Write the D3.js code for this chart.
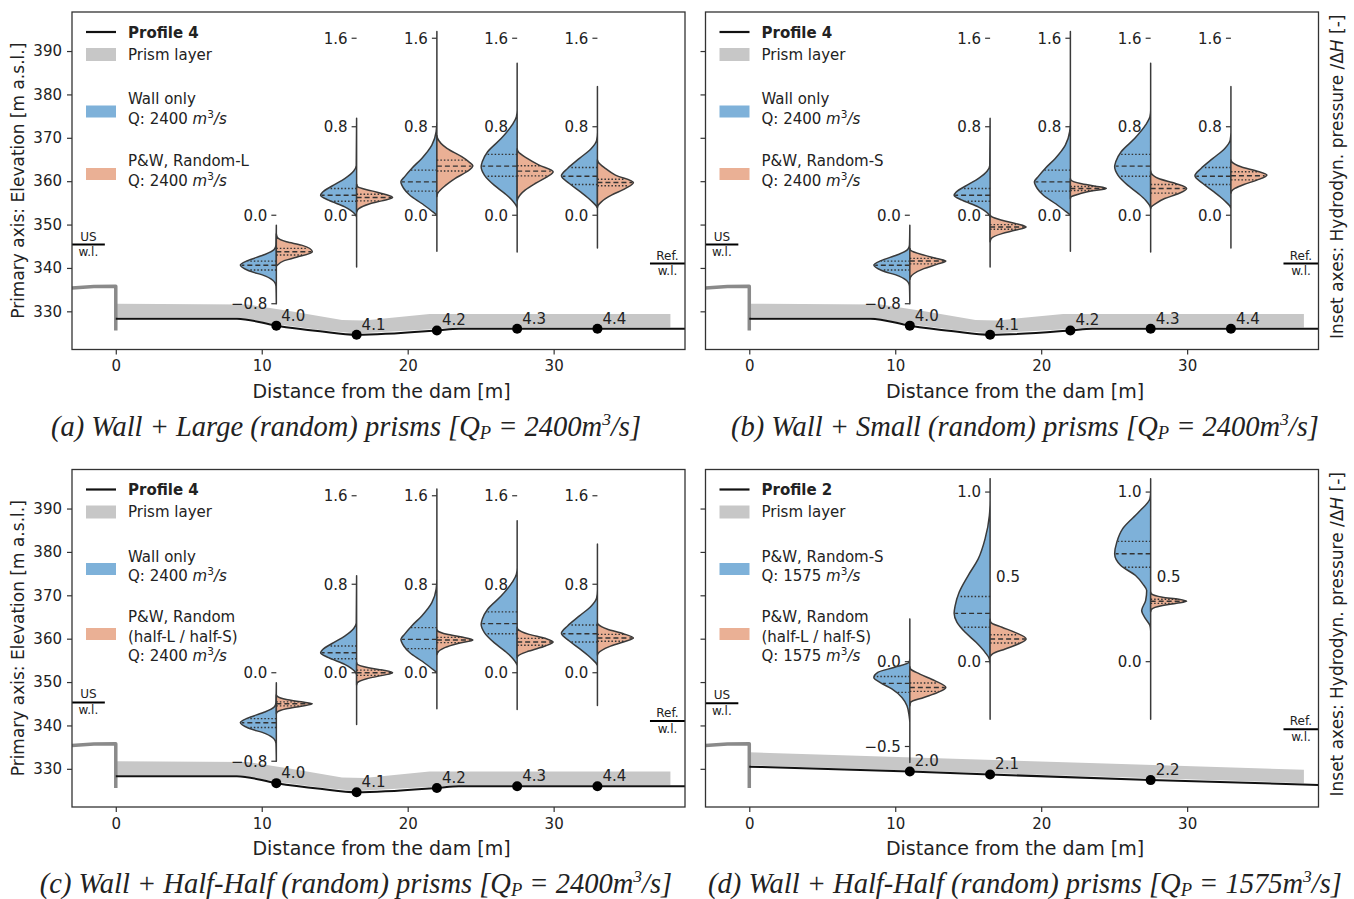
<!DOCTYPE html>
<html>
<head>
<meta charset="utf-8">
<title>Hydrodynamic pressure along the stilling basin profiles</title>
<script src="https://cdn.jsdelivr.net/npm/d3@7/dist/d3.min.js"></script>
<style>
  html, body { margin: 0; padding: 0; background: #fff; }
  svg { display: block; }
  text { font-family: "DejaVu Sans", sans-serif; fill: #222; }
  .caption { font-family: "Liberation Serif", "Times New Roman", serif; font-style: italic; }
</style>
</head>
<body>
<svg id="fig" width="1354" height="899"></svg>
<script>
// ---------- main axes ----------
const xTicks = [0, 10, 20, 30];
const yTicks = [330, 340, 350, 360, 370, 380, 390];

// bed profiles (distance from the dam [m], elevation [m a.s.l.])
const profile4Dist = [0, 8.3, 11, 14, 16.5, 22, 23.5, 27.5, 33, 39];
const profile4Elev = [328.3, 328.3, 326.7, 325.4, 324.6, 325.6, 326.0, 326.0, 326.0, 326.0];
const profile2Dist = [0, 11, 16.5, 27.5, 39];
const profile2Elev = [330.5, 329.4, 328.7, 327.4, 326.3];

// prism layer outline (top and base) above each profile
const prism4TopDist = [0, 9, 12, 15.5, 17, 21.5, 38];
const prism4TopElev = [331.75, 331.6, 330.0, 328.0, 327.9, 329.4, 329.4];
const prism4BaseDist = [0, 8.3, 11, 14, 16.5, 22, 23.5, 38];
const prism4BaseElev = [328.6, 328.6, 327.0, 325.7, 324.9, 325.9, 326.3, 326.3];
const prism2TopDist = [0, 38];
const prism2TopElev = [333.8, 329.8];
const prism2BaseDist = [0, 38];
const prism2BaseElev = [330.8, 326.7];

// dam crest and downstream face
const damDist = [-3, -1.5, 0, 0];
const damElev = [335.4, 335.7, 335.8, 325.6];

// measuring stations along the profiles
const stations4 = [11, 16.5, 22, 27.5, 33];
const stationNames4 = ["4.0", "4.1", "4.2", "4.3", "4.4"];
const stations2 = [11, 16.5, 27.5];
const stationNames2 = ["2.0", "2.1", "2.2"];

// water levels [m a.s.l.] and peak discharge, panels a–d
const usLevel = [345.4, 345.4, 345.3, 345.1];
const refLevel = [341.0, 341.0, 341.0, 339.1];
const discharge = [2400, 2400, 2400, 1575];

// ---------- inset violins: density outline [value, relative density] and quartiles ----------
// Wall only, Q = 2400 m3/s (stations 4.0–4.4)
const wallOnlyShapes = [
  [[-0.80,0],[-0.64,0.01],[-0.60,0.06],[-0.55,0.3],[-0.50,0.78],[-0.45,1],[-0.41,0.8],[-0.36,0.36],[-0.31,0.06],[-0.27,0.01],[-0.09,0]],
  [[-0.468,0],[-0.02,0],[0.015,0.06],[0.076,0.33],[0.136,0.78],[0.181,1],[0.211,0.94],[0.272,0.64],[0.332,0.33],[0.40,0.08],[0.45,0.01],[0.876,0]],
  [[-0.326,0],[-0.01,0],[0.045,0.17],[0.106,0.42],[0.181,0.75],[0.242,0.92],[0.302,1],[0.347,0.9],[0.423,0.7],[0.514,0.42],[0.634,0.14],[0.755,0.02],[0.85,0],[1.66,0]],
  [[-0.332,0],[0.06,0],[0.136,0.14],[0.196,0.34],[0.272,0.64],[0.363,0.91],[0.438,1],[0.483,0.97],[0.574,0.82],[0.695,0.44],[0.816,0.14],[0.891,0.02],[0.95,0],[1.375,0]],
  [[-0.296,0],[0.06,0],[0.136,0.19],[0.211,0.47],[0.287,0.78],[0.356,1],[0.423,0.83],[0.514,0.5],[0.604,0.17],[0.68,0.02],[0.75,0],[1.163,0]]
];
const wallOnlyQuartiles = [[-0.495,-0.452,-0.415],[0.127,0.181,0.242],[0.218,0.302,0.408],[0.353,0.444,0.55],[0.278,0.353,0.432]];

// P&W, Random-L, Q = 2400 m3/s
const randomLShapes = [
  [[-0.46,0],[-0.41,0.22],[-0.38,0.56],[-0.33,1],[-0.27,0.7],[-0.24,0.28],[-0.2,0.03],[-0.17,0]],
  [[0.03,0],[0.06,0.06],[0.10,0.33],[0.13,0.7],[0.16,1],[0.19,0.78],[0.22,0.42],[0.257,0.03],[0.28,0]],
  [[0.17,0],[0.196,0.02],[0.272,0.25],[0.332,0.5],[0.393,0.83],[0.447,1],[0.483,0.89],[0.529,0.69],[0.604,0.28],[0.695,0.02],[0.72,0]],
  [[0.13,0],[0.151,0.02],[0.227,0.22],[0.287,0.5],[0.347,0.83],[0.393,1],[0.453,0.61],[0.514,0.28],[0.574,0.03],[0.60,0]],
  [[0.07,0],[0.09,0.02],[0.121,0.11],[0.181,0.39],[0.242,0.78],[0.296,1],[0.363,0.5],[0.423,0.22],[0.483,0.02],[0.50,0]]
];
const randomLQuartiles = [[-0.36,-0.33,-0.30],[0.13,0.16,0.19],[0.40,0.444,0.498],[0.356,0.399,0.447],[0.266,0.296,0.326]];

// P&W, Random-S, Q = 2400 m3/s
const randomSShapes = [
  [[-0.58,0],[-0.559,0.02],[-0.529,0.11],[-0.483,0.39],[-0.444,0.75],[-0.414,1],[-0.393,0.78],[-0.363,0.42],[-0.317,0.02],[-0.30,0]],
  [[-0.24,0],[-0.211,0.03],[-0.166,0.33],[-0.136,0.69],[-0.106,1],[-0.076,0.72],[-0.045,0.33],[-0.01,0.03],[0.0,0]],
  [[0.15,0],[0.166,0.02],[0.196,0.28],[0.221,0.61],[0.242,1],[0.263,0.69],[0.287,0.28],[0.317,0.02],[0.33,0]],
  [[0.06,0],[0.076,0.02],[0.106,0.14],[0.151,0.39],[0.196,0.78],[0.242,1],[0.287,0.69],[0.332,0.22],[0.378,0.02],[0.40,0]],
  [[0.20,0],[0.218,0.02],[0.242,0.11],[0.278,0.36],[0.317,0.72],[0.363,1],[0.402,0.69],[0.438,0.28],[0.483,0.02],[0.50,0]]
];
const randomSQuartiles = [[-0.44,-0.414,-0.39],[-0.127,-0.106,-0.085],[0.224,0.242,0.26],[0.20,0.242,0.278],[0.32,0.357,0.393]];

// P&W, Random (half-L / half-S), Q = 2400 m3/s
const halfHalfShapes = [
  [[-0.37,0],[-0.356,0.02],[-0.326,0.28],[-0.302,0.69],[-0.281,1],[-0.263,0.69],[-0.242,0.28],[-0.211,0.02],[-0.20,0]],
  [[-0.11,0],[-0.091,0.02],[-0.054,0.28],[-0.024,0.72],[0,1],[0.024,0.72],[0.045,0.33],[0.076,0.02],[0.09,0]],
  [[0.165,0],[0.181,0.02],[0.227,0.22],[0.266,0.61],[0.296,1],[0.323,0.69],[0.347,0.28],[0.378,0.02],[0.39,0]],
  [[0.135,0],[0.151,0.02],[0.196,0.33],[0.242,0.78],[0.278,1],[0.311,0.78],[0.347,0.33],[0.393,0.02],[0.41,0]],
  [[0.16,0],[0.175,0.02],[0.236,0.33],[0.278,0.72],[0.314,1],[0.353,0.72],[0.393,0.28],[0.438,0.02],[0.45,0]]
];
const halfHalfQuartiles = [[-0.30,-0.281,-0.263],[-0.024,0,0.024],[0.272,0.296,0.32],[0.248,0.278,0.311],[0.284,0.314,0.347]];

// P&W, Random-S, Q = 1575 m3/s (stations 2.0, 2.1, 2.2)
const randomS1575Shapes = [
  [[-0.594,0],[-0.36,0],[-0.319,0.02],[-0.26,0.08],[-0.211,0.22],[-0.161,0.5],[-0.122,0.83],[-0.093,1],[-0.063,0.89],[-0.033,0.42],[-0.004,0.02],[0.02,0],[0.252,0]],
  [[-0.339,0],[-0.02,0],[0.016,0.02],[0.055,0.14],[0.114,0.39],[0.173,0.69],[0.232,0.92],[0.285,1],[0.331,0.97],[0.409,0.86],[0.508,0.61],[0.606,0.33],[0.724,0.14],[0.862,0.02],[0.95,0],[1.079,0]],
  [[-0.339,0],[0.18,0],[0.213,0.02],[0.252,0.14],[0.301,0.25],[0.360,0.14],[0.419,0.11],[0.459,0.22],[0.508,0.42],[0.567,0.83],[0.636,1],[0.705,0.94],[0.783,0.78],[0.882,0.33],[0.961,0.02],[1.0,0],[1.079,0]]
];
const randomS1575Quartiles = [[-0.181,-0.128,-0.087],[0.203,0.285,0.384],[0.557,0.636,0.709]];

// P&W, Random (half-L / half-S), Q = 1575 m3/s
const halfHalf1575Shapes = [
  [[-0.26,0],[-0.24,0.02],[-0.211,0.39],[-0.181,0.78],[-0.152,1],[-0.112,0.69],[-0.073,0.28],[-0.043,0.02],[-0.03,0]],
  [[0.03,0],[0.045,0.06],[0.075,0.42],[0.104,0.78],[0.134,1],[0.173,0.69],[0.203,0.33],[0.232,0.02],[0.25,0]],
  [[0.295,0],[0.307,0.02],[0.331,0.33],[0.344,0.72],[0.356,1],[0.368,0.78],[0.38,0.33],[0.40,0.02],[0.41,0]]
];
const halfHalf1575Quartiles = [[-0.175,-0.152,-0.126],[0.11,0.134,0.159],[0.344,0.356,0.368]];

// inset tick values per station
const insetTicks4 = [[-0.8, 0], [0, 0.8, 1.6], [0, 0.8, 1.6], [0, 0.8, 1.6], [0, 0.8, 1.6]];
const insetTicks2 = [[-0.5, 0], [0, 0.5, 1.0], [0, 0.5, 1.0]];

// ---------- drawing ----------
const BLUE = "#7eb1d9", ORANGE = "#eab095", PRISM = "#c7c7c7", DAM = "#8a8a8a", INK = "#333";
const W = 613, H = 337.5;
const svg = d3.select("#fig");

const panels = [
  { left: 72,    top: 12,    profile: "Profile 4", dist: profile4Dist, elev: profile4Elev,
    prism: [prism4TopDist, prism4TopElev, prism4BaseDist, prism4BaseElev],
    stations: stations4, names: stationNames4, ticks: insetTicks4, rightTicks: [],
    blue: [wallOnlyShapes, wallOnlyQuartiles], orange: [randomLShapes, randomLQuartiles],
    blueName: ["Wall only"], orangeName: ["P&W, Random-L"],
    insetZero: 352.15, insetUnit: 25.5, yLabels: true,
    caption: "(a) Wall + Large (random) prisms", captionX: 346 },
  { left: 705.5, top: 12,    profile: "Profile 4", dist: profile4Dist, elev: profile4Elev,
    prism: [prism4TopDist, prism4TopElev, prism4BaseDist, prism4BaseElev],
    stations: stations4, names: stationNames4, ticks: insetTicks4, rightTicks: [],
    blue: [wallOnlyShapes, wallOnlyQuartiles], orange: [randomSShapes, randomSQuartiles],
    blueName: ["Wall only"], orangeName: ["P&W, Random-S"],
    insetZero: 352.15, insetUnit: 25.5, yLabels: false,
    caption: "(b) Wall + Small (random) prisms", captionX: 1025 },
  { left: 72,    top: 469.5, profile: "Profile 4", dist: profile4Dist, elev: profile4Elev,
    prism: [prism4TopDist, prism4TopElev, prism4BaseDist, prism4BaseElev],
    stations: stations4, names: stationNames4, ticks: insetTicks4, rightTicks: [],
    blue: [wallOnlyShapes, wallOnlyQuartiles], orange: [halfHalfShapes, halfHalfQuartiles],
    blueName: ["Wall only"], orangeName: ["P&W, Random", "(half-L / half-S)"],
    insetZero: 352.15, insetUnit: 25.5, yLabels: true,
    caption: "(c) Wall + Half-Half (random) prisms", captionX: 356 },
  { left: 705.5, top: 469.5, profile: "Profile 2", dist: profile2Dist, elev: profile2Elev,
    prism: [prism2TopDist, prism2TopElev, prism2BaseDist, prism2BaseElev],
    stations: stations2, names: stationNames2, ticks: insetTicks2, rightTicks: [0.5],
    blue: [randomS1575Shapes, randomS1575Quartiles], orange: [halfHalf1575Shapes, halfHalf1575Quartiles],
    blueName: ["P&W, Random-S"], orangeName: ["P&W, Random", "(half-L / half-S)"],
    insetZero: 354.7, insetUnit: 39.1, yLabels: false,
    caption: "(d) Wall + Half-Half (random) prisms", captionX: 1025 }
];

const wScale = d3.scaleLinear().domain([0, 1]).range([0, 36]);
const tickFmt = d3.format(".1f");

function addDischarge(t, q) {
  t.append("tspan").text(`Q: ${q} `);
  t.append("tspan").attr("font-style", "italic").text("m");
  t.append("tspan").attr("font-size", 10.5).attr("dy", -6).text("3");
  t.append("tspan").attr("dy", 6).attr("font-style", "italic").text("/s");
}

function drawHalf(g, cx, side, ys, shape, quart, color) {
  // outline runs from the highest value down to the lowest, then back up the split line
  const pts = shape.slice().reverse().map(([v, d]) => [cx + side * wScale(d), ys(v)]);
  const outline = d3.line().curve(d3.curveMonotoneY)(pts) + `L${cx},${pts[0][1]}Z`;
  g.append("path").attr("d", outline).attr("fill", color)
    .attr("stroke", "#3a3a3a").attr("stroke-width", 1.5).attr("stroke-linejoin", "round");
  const widthAt = d3.scaleLinear().domain(shape.map(p => p[0])).range(shape.map(p => p[1])).clamp(true);
  quart.forEach((q, i) => {
    const yq = ys(q);
    g.append("line").attr("x1", cx).attr("x2", cx + side * wScale(widthAt(q)) * 0.97)
      .attr("y1", yq).attr("y2", yq).attr("stroke", INK).attr("stroke-width", 1.4)
      .attr("stroke-dasharray", i === 1 ? "5,3" : "1.5,2");
  });
}

panels.forEach((p, k) => {
  const g = svg.append("g");
  const x = d3.scaleLinear().domain([-3, 39]).range([p.left, p.left + W]);
  const y = d3.scaleLinear().domain([321.2, 399]).range([p.top + H, p.top]);
  const line = d3.line().x(d => x(d[0])).y(d => y(d[1]));

  // axes
  const ax = g.append("g").attr("transform", `translate(0,${p.top + H})`)
    .call(d3.axisBottom(x).tickValues(xTicks).tickSize(5).tickPadding(6));
  const ay = g.append("g").attr("transform", `translate(${p.left},0)`)
    .call(d3.axisLeft(y).tickValues(yTicks).tickSize(5).tickPadding(5)
      .tickFormat(p.yLabels ? d3.format("d") : () => ""));
  [ax, ay].forEach(a => {
    a.select(".domain").remove();
    a.attr("font-family", null).attr("font-size", null);
    a.selectAll("line").attr("stroke", INK).attr("stroke-width", 1.2);
    a.selectAll("text").attr("font-size", 15).attr("fill", "#222");
  });

  // prism layer
  const [tD, tE, bD, bE] = p.prism;
  const band = tD.map((d, i) => [d, tE[i]]).concat(bD.map((d, i) => [d, bE[i]]).reverse());
  g.append("path").attr("d", line(band) + "Z").attr("fill", PRISM);

  // dam
  g.append("path").attr("d", line(damDist.map((d, i) => [d, damElev[i]])))
    .attr("fill", "none").attr("stroke", DAM).attr("stroke-width", 3.5).attr("stroke-linejoin", "round");

  // bed profile
  g.append("path").attr("d", d3.line().x(d => x(d[0])).y(d => y(d[1])).curve(d3.curveMonotoneX)(p.dist.map((d, i) => [d, p.elev[i]])))
    .attr("fill", "none").attr("stroke", "#111").attr("stroke-width", 2);

  // stations on the profile
  const elevAt = d3.scaleLinear().domain(p.dist).range(p.elev);
  p.stations.forEach((s, i) => {
    const sx = x(s), sy = y(elevAt(s));
    g.append("circle").attr("cx", sx).attr("cy", sy).attr("r", 5).attr("fill", "#000");
    g.append("text").attr("x", sx + 5).attr("y", sy - 5).attr("font-size", 15).text(p.names[i]);
  });

  // upstream / reference water levels
  const wl = (x0, x1, lvl, top) => {
    const yy = y(lvl), cx = (x(x0) + x(x1)) / 2;
    g.append("line").attr("x1", x(x0)).attr("x2", x(x1)).attr("y1", yy).attr("y2", yy)
      .attr("stroke", "#000").attr("stroke-width", 2);
    g.append("text").attr("x", cx).attr("y", yy - 4).attr("text-anchor", "middle").attr("font-size", 12).text(top);
    g.append("text").attr("x", cx).attr("y", yy + 11.5).attr("text-anchor", "middle").attr("font-size", 12).text("w.l.");
  };
  wl(-3, -0.75, usLevel[k], "US");
  wl(36.6, 39, refLevel[k], "Ref.");

  // frame
  g.append("rect").attr("x", p.left).attr("y", p.top).attr("width", W).attr("height", H)
    .attr("fill", "none").attr("stroke", INK).attr("stroke-width", 1.3);

  // legend
  const lx = p.left + 14, tx = p.left + 56, T = p.top;
  g.append("line").attr("x1", lx).attr("x2", lx + 30).attr("y1", T + 20).attr("y2", T + 20)
    .attr("stroke", "#111").attr("stroke-width", 2.2);
  g.append("text").attr("x", tx).attr("y", T + 25.5).attr("font-size", 15).attr("font-weight", "bold").text(p.profile);
  g.append("rect").attr("x", lx).attr("y", T + 36).attr("width", 30).attr("height", 13).attr("fill", PRISM);
  g.append("text").attr("x", tx).attr("y", T + 47.5).attr("font-size", 15).text("Prism layer");
  const entry = (names, color, y0, patchMid) => {
    g.append("rect").attr("x", lx).attr("y", T + patchMid - 6).attr("width", 30).attr("height", 12).attr("fill", color);
    names.forEach((n, i) => g.append("text").attr("x", tx).attr("y", T + y0 + i * 19.5).attr("font-size", 15).text(n));
    const t = g.append("text").attr("x", tx).attr("y", T + y0 + names.length * 19.5).attr("font-size", 15);
    addDischarge(t, discharge[k]);
  };
  entry(p.blueName, BLUE, 92, 99.5);
  entry(p.orangeName, ORANGE, p.orangeName.length > 1 ? 152.5 : 154, p.orangeName.length > 1 ? 164.5 : 162);

  // insets: split violins centred on each station
  const ys = d3.scaleLinear().domain([0, 1]).range([y(p.insetZero), y(p.insetZero + p.insetUnit)]);
  p.stations.forEach((s, i) => {
    const cx = x(s);
    const ig = g.append("g");
    p.ticks[i].forEach(t => {
      const yt = ys(t), right = p.rightTicks.includes(t);
      ig.append("line").attr("x1", cx - 5).attr("x2", cx).attr("y1", yt).attr("y2", yt)
        .attr("stroke", INK).attr("stroke-width", 1.2);
      ig.append("text").attr("x", right ? cx + 6 : cx - 9).attr("y", yt).attr("dy", "0.36em")
        .attr("text-anchor", right ? "start" : "end").attr("font-size", 15).text(tickFmt(t));
    });
    drawHalf(ig, cx, -1, ys, p.blue[0][i], p.blue[1][i], BLUE);
    drawHalf(ig, cx, 1, ys, p.orange[0][i], p.orange[1][i], ORANGE);
  });

  // axis titles
  g.append("text").attr("x", p.left + W / 2 + 3).attr("y", p.top + H + 48).attr("text-anchor", "middle")
    .attr("font-size", 19).text("Distance from the dam [m]");
  if (p.yLabels) {
    g.append("text").attr("transform", `translate(24,${p.top + H / 2}) rotate(-90)`).attr("text-anchor", "middle")
      .attr("font-size", 17).text("Primary axis: Elevation [m a.s.l.]");
  } else {
    const t = g.append("text").attr("transform", `translate(1343,${p.top + H / 2 - 4}) rotate(-90)`)
      .attr("text-anchor", "middle").attr("font-size", 17);
    t.append("tspan").text("Inset axes: Hydrodyn. pressure /\u0394");
    t.append("tspan").attr("font-style", "italic").text("H");
    t.append("tspan").text(" [-]");
  }

  // caption
  const c = svg.append("text").attr("class", "caption").attr("x", p.captionX)
    .attr("y", p.top + H + 86).attr("text-anchor", "middle").attr("font-size", 28.5);
  c.append("tspan").text(p.caption + " [Q");
  c.append("tspan").attr("font-size", 18.5).attr("dy", 3).text("P");
  c.append("tspan").attr("dy", -3).text(` = ${discharge[k]}m`);
  c.append("tspan").attr("font-size", 17.5).attr("dy", -11).text("3");
  c.append("tspan").attr("dy", 11).text("/s]");
});
</script>
</body>
</html>
